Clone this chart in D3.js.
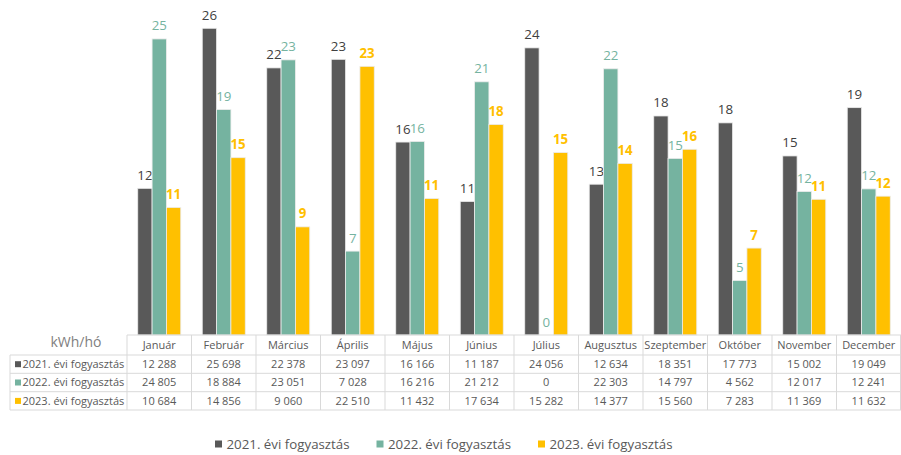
<!DOCTYPE html>
<html><head><meta charset="utf-8">
<script src="https://cdn.jsdelivr.net/npm/d3@7"></script>
<style>
body{margin:0;background:#fff;}
svg{display:block;font-family:"Open Sans",sans-serif;}
</style></head>
<body>
<svg id="chart" width="901" height="455"></svg>
<script>
const months = ["Január","Február","Március","Április","Május","Június","Július","Augusztus","Szeptember","Október","November","December"];
const seriesNames = ["2021. évi fogyasztás","2022. évi fogyasztás","2023. évi fogyasztás"];
const values2021 = [12288,25698,22378,23097,16166,11187,24056,12634,18351,17773,15002,19049];
const values2022 = [24805,18884,23051,7028,16216,21212,0,22303,14797,4562,12017,12241];
const values2023 = [10684,14856,9060,22510,11432,17634,15282,14377,15560,7283,11369,11632];
const unitLabel = "kWh/hó";
const yMax = 28000;

const colors = ["#595959","#75B3A0","#FFC000"];
const labelColors = ["#404040","#75B3A0","#FFC000"];
const series = [values2021, values2022, values2023];

const svg = d3.select("#chart");
const plotLeft = 127, plotRight = 901, baseY = 335, topY = 0.8;

const x = d3.scaleBand().domain(months).range([plotLeft, plotRight]).paddingInner(0).paddingOuter(0);
const bw = x.bandwidth();
const barW = bw / 4.5;
const xs = d3.scaleBand().domain([0,1,2]).range([0.75*barW, 0.75*barW + 3*barW]);
const y = d3.scaleLinear().domain([0, yMax]).range([baseY, topY]);

const loc = d3.formatLocale({decimal:",", thousands:"\u00a0", grouping:[3], currency:["",""]});
const fmtTable = loc.format(",d");
const fmtLabel = v => String(Math.round(v/1000));

// bars
series.forEach((vals, si) => {
  const g = svg.append("g");
  g.selectAll("rect").data(vals).join("rect")
    .attr("x", (d,i) => x(months[i]) + xs(si))
    .attr("y", d => y(d))
    .attr("width", xs.bandwidth())
    .attr("height", d => baseY - y(d))
    .attr("fill", colors[si])
    .attr("stroke", "#ececec")
    .attr("stroke-width", 0.8);
  g.selectAll("text").data(vals).join("text")
    .attr("x", (d,i) => x(months[i]) + xs(si) + xs.bandwidth()/2)
    .attr("y", d => y(d) - 8.5)
    .attr("text-anchor", "middle")
    .attr("font-size", 13.3)
    .attr("font-weight", si === 2 ? 700 : 400)
    .attr("fill", labelColors[si])
    .text(d => fmtLabel(d));
});

// table
const lineColor = "#d9d9d9";
const rowLines = [355, 373.3, 391.7, 410];
const tableLeft = 10;
const tg = svg.append("g");
// axis line
tg.append("line").attr("x1", plotLeft).attr("x2", plotRight).attr("y1", baseY).attr("y2", baseY)
  .attr("stroke", lineColor).attr("stroke-width", 1);
rowLines.forEach(ly => {
  tg.append("line").attr("x1", tableLeft).attr("x2", plotRight).attr("y1", ly).attr("y2", ly)
    .attr("stroke", lineColor).attr("stroke-width", 1);
});
// vertical lines
const bounds = months.map(m => x(m)).concat([plotRight - 0.5]);
bounds.forEach(bx => {
  tg.append("line").attr("x1", bx).attr("x2", bx).attr("y1", baseY).attr("y2", 410)
    .attr("stroke", lineColor).attr("stroke-width", 1);
});
tg.append("line").attr("x1", tableLeft).attr("x2", tableLeft).attr("y1", 355).attr("y2", 410)
  .attr("stroke", lineColor).attr("stroke-width", 1);

// unit label
tg.append("text").attr("x", 76).attr("y", 342).attr("dy", "0.35em").attr("text-anchor", "middle")
  .attr("font-size", 14).attr("fill", "#808080").text(unitLabel);

// header
tg.selectAll("text.hdr").data(months).join("text").attr("class","hdr")
  .attr("x", m => x(m) + bw/2).attr("y", 345.5).attr("dy","0.35em")
  .attr("text-anchor","middle").attr("font-size", 11).attr("fill","#595959")
  .text(m => m);

const rowCenters = [364.2, 382.5, 400.9];
series.forEach((vals, si) => {
  tg.append("rect").attr("x", 15).attr("y", rowCenters[si] - 3).attr("width", 6).attr("height", 6).attr("fill", colors[si]);
  tg.append("text").attr("x", 22.5).attr("y", rowCenters[si]).attr("dy","0.35em")
    .attr("font-size", 11).attr("fill", "#595959").text(seriesNames[si]);
  tg.selectAll("text.v"+si).data(vals).join("text").attr("class","v"+si)
    .attr("x", (d,i) => x(months[i]) + bw/2).attr("y", rowCenters[si]).attr("dy","0.35em")
    .attr("text-anchor","middle").attr("font-size", 11).attr("fill","#595959")
    .text(d => fmtTable(d));
});

// legend
const legendX = [215, 376.5, 538];
const lg = svg.append("g");
seriesNames.forEach((n, si) => {
  lg.append("rect").attr("x", legendX[si]).attr("y", 444 - 3.5).attr("width", 7).attr("height", 7).attr("fill", colors[si]);
  lg.append("text").attr("x", legendX[si] + 11.5).attr("y", 444).attr("dy","0.35em")
    .attr("font-size", 13.3).attr("fill","#595959").text(n);
});
</script>
</body></html>
